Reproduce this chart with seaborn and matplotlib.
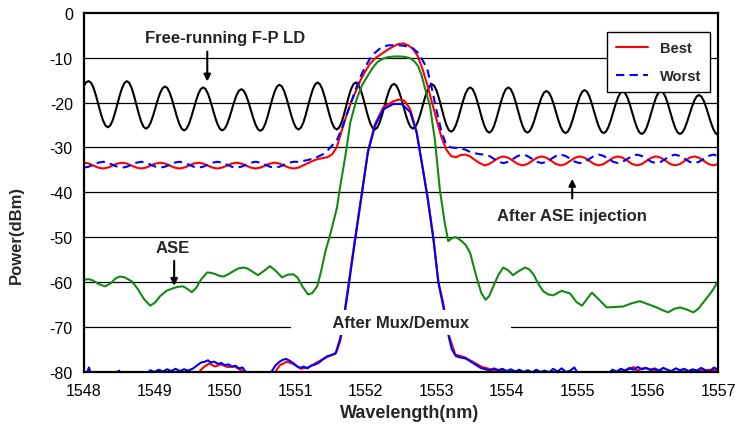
import numpy as np
import matplotlib
matplotlib.use("Agg")
import matplotlib.pyplot as plt
import seaborn as sns

# Wavelength grids of the OSA traces (nm)
wavelength = np.linspace(1548, 1557, 134)
fp_wavelength = np.linspace(1548, 1557, 267)

# Free-running F-P LD spectrum (dBm), one mode period per row
fp_ld = [
    -16.2, -15.4,
    -15.2, -15.59, -16.7, -18.38, -20.35, -22.32, -24.0, -25.11,
    -25.5, -25.11, -24.0, -22.32, -20.35, -18.38, -16.7, -15.59,
    -15.2, -15.6, -16.75, -18.48, -20.5, -22.52, -24.25, -25.4,
    -25.8, -25.44, -24.43, -22.9, -21.1, -19.3, -17.77, -16.76,
    -16.4, -16.77, -17.83, -19.43, -21.3, -23.17, -24.77, -25.83,
    -26.2, -25.84, -24.8, -23.23, -21.4, -19.57, -18.0, -16.96,
    -16.6, -16.96, -18.0, -19.57, -21.4, -23.23, -24.8, -25.84,
    -26.2, -25.85, -24.86, -23.36, -21.6, -19.84, -18.34, -17.35,
    -17.0, -17.35, -18.36, -19.87, -21.65, -23.43, -24.94, -25.95,
    -26.3, -25.91, -24.8, -23.12, -21.15, -19.18, -17.5, -16.39,
    -16.0, -16.38, -17.46, -19.09, -21.0, -22.91, -24.54, -25.62,
    -26.0, -25.6, -24.47, -22.76, -20.75, -18.74, -17.03, -15.9,
    -15.5, -15.9, -17.03, -18.74, -20.75, -22.76, -24.47, -25.6,
    -26.0, -25.6, -24.47, -22.76, -20.75, -18.74, -17.03, -15.9,
    -15.5, -15.9, -17.03, -18.74, -20.75, -22.76, -24.47, -25.6,
    -26.0, -25.61, -24.51, -22.85, -20.9, -18.95, -17.29, -16.19,
    -15.8, -16.18, -17.26, -18.89, -20.8, -22.71, -24.34, -25.42,
    -25.8, -25.42, -24.35, -22.74, -20.85, -18.96, -17.35, -16.28,
    -15.9, -16.3, -17.45, -19.18, -21.2, -23.22, -24.95, -26.1,
    -26.5, -26.12, -25.05, -23.44, -21.55, -19.66, -18.05, -16.98,
    -16.6, -16.98, -18.07, -19.72, -21.65, -23.58, -25.23, -26.32,
    -26.7, -26.32, -25.23, -23.58, -21.65, -19.72, -18.07, -16.98,
    -16.6, -16.98, -18.07, -19.72, -21.65, -23.58, -25.23, -26.32,
    -26.7, -26.35, -25.34, -23.83, -22.05, -20.27, -18.76, -17.75,
    -17.4, -17.76, -18.77, -20.3, -22.1, -23.9, -25.43, -26.44,
    -26.8, -26.44, -25.4, -23.83, -22.0, -20.17, -18.6, -17.56,
    -17.2, -17.56, -18.6, -20.17, -22.0, -23.83, -25.4, -26.44,
    -26.8, -26.45, -25.44, -23.93, -22.15, -20.37, -18.86, -17.85,
    -17.5, -17.86, -18.89, -20.44, -22.25, -24.06, -25.61, -26.64,
    -27.0, -26.64, -25.6, -24.03, -22.2, -20.37, -18.8, -17.76,
    -17.4, -17.76, -18.8, -20.37, -22.2, -24.03, -25.6, -26.64,
    -27.0, -26.67, -25.73, -24.31, -22.65, -20.99, -19.57, -18.63,
    -18.3, -18.64, -19.6, -21.05, -22.75, -24.45, -25.9, -26.86, -27.2,
]

# After ASE injection, best channel (dBm)
best = [
    -33.4, -33.6, -34.05, -34.5, -34.7, -34.5, -34.05, -33.6,
    -33.4, -33.6, -34.05, -34.5, -34.7, -34.5, -34.05, -33.6,
    -33.4, -33.6, -34.05, -34.5, -34.7, -34.5, -34.05, -33.6,
    -33.4, -33.6, -34.05, -34.5, -34.7, -34.5, -34.05, -33.6,
    -33.4, -33.6, -34.05, -34.5, -34.7, -34.5, -34.05, -33.6,
    -33.4, -33.6, -34.05, -34.5, -34.7, -34.5, -34.0, -33.5,
    -33.0, -32.6, -32.4, -32.2, -31.6,
    -30.0, -26.5, -23.0, -20.0, -17.5, -15.0, -13.0, -11.3,
    -10.2, -9.4, -8.7, -8.0, -7.4, -6.9, -6.8, -7.2,
    -8.0, -9.6, -12.5, -16.0, -20.0, -24.0, -27.8, -30.5,
    -31.9, -32.2, -31.7, -31.6, -32.0, -32.8, -33.5,
    -34.0, -33.7, -33.0, -32.3, -32.0, -32.3, -33.0, -33.7,
    -34.0, -33.7, -33.0, -32.3, -32.0, -32.3, -33.0, -33.7,
    -34.0, -33.7, -33.0, -32.3, -32.0, -32.3, -33.0, -33.7,
    -34.0, -33.7, -33.0, -32.3, -32.0, -32.3, -33.0, -33.7,
    -34.0, -33.7, -33.0, -32.3, -32.0, -32.3, -33.0, -33.7,
    -34.0, -33.7, -33.0, -32.3, -32.0, -32.3, -33.0, -33.7,
    -34.0, -33.7,
]

# After ASE injection, worst channel (dBm)
worst = [
    -34.5, -34.3, -33.85, -33.4, -33.2, -33.4, -33.85, -34.3,
    -34.5, -34.3, -33.85, -33.4, -33.2, -33.4, -33.85, -34.3,
    -34.5, -34.3, -33.85, -33.4, -33.2, -33.4, -33.85, -34.3,
    -34.5, -34.3, -33.85, -33.4, -33.2, -33.4, -33.85, -34.3,
    -34.5, -34.3, -33.85, -33.4, -33.2, -33.4, -33.85, -34.3,
    -34.5, -34.3, -33.85, -33.4, -33.2, -33.2, -33.0, -32.8,
    -32.5, -32.1, -31.6, -30.8, -29.6,
    -28.5, -26.0, -23.0, -20.0, -17.0, -14.2, -12.0, -10.2,
    -8.9, -8.0, -7.4, -7.2, -7.2, -7.2, -7.3, -7.5,
    -7.9, -8.8, -10.5, -12.5, -17.0, -22.0, -26.5, -29.5,
    -30.0, -30.1, -30.2, -30.5, -31.0, -31.3, -31.5,
    -31.6, -31.9, -32.55, -33.2, -33.5, -33.2, -32.55, -31.9,
    -31.6, -31.9, -32.55, -33.2, -33.5, -33.2, -32.55, -31.9,
    -31.6, -31.9, -32.55, -33.2, -33.5, -33.2, -32.55, -31.9,
    -31.6, -31.9, -32.55, -33.2, -33.5, -33.2, -32.55, -31.9,
    -31.6, -31.9, -32.55, -33.2, -33.5, -33.2, -32.55, -31.9,
    -31.6, -31.9, -32.55, -33.2, -33.5, -33.2, -32.55, -31.9,
    -31.6, -31.9,
]

# ASE source spectrum
ase_wl = [
    1548.00, 1548.07, 1548.13, 1548.21, 1548.30, 1548.38, 1548.45, 1548.51,
    1548.58, 1548.68, 1548.76, 1548.85, 1548.94, 1549.01, 1549.08, 1549.17,
    1549.25, 1549.33, 1549.41, 1549.47, 1549.53, 1549.59, 1549.66, 1549.75,
    1549.81, 1549.87, 1549.93, 1549.98, 1550.05, 1550.12, 1550.19, 1550.26,
    1550.32, 1550.40, 1550.47, 1550.55, 1550.64, 1550.72, 1550.81, 1550.89,
    1550.97, 1551.03, 1551.10, 1551.18, 1551.24, 1551.31, 1551.36, 1551.43,
    1551.49, 1551.55, 1551.59, 1551.63, 1551.71, 1551.78, 1551.87, 1551.95,
    1552.02, 1552.09, 1552.16, 1552.23, 1552.30, 1552.40, 1552.49, 1552.56,
    1552.63, 1552.69, 1552.74, 1552.79, 1552.84, 1552.91, 1552.98, 1553.05,
    1553.12, 1553.17, 1553.22, 1553.27, 1553.31, 1553.36, 1553.42, 1553.48,
    1553.53, 1553.58, 1553.64, 1553.70, 1553.75, 1553.81, 1553.88, 1553.95,
    1554.02, 1554.09, 1554.17, 1554.26, 1554.32, 1554.38, 1554.45, 1554.52,
    1554.59, 1554.66, 1554.78, 1554.90, 1554.99, 1555.07, 1555.14, 1555.21,
    1555.30, 1555.42, 1555.53, 1555.65, 1555.77, 1555.89, 1556.01, 1556.13,
    1556.21, 1556.29, 1556.38, 1556.46, 1556.56, 1556.65, 1556.72, 1556.79,
    1556.86, 1556.93, 1557.00,
]
ase_power = [
    -59.5, -59.4, -59.7, -60.5, -61.0, -60.3, -59.2, -58.8,
    -59.0, -59.9, -61.5, -63.8, -65.3, -64.6, -63.2, -62.0,
    -61.5, -61.1, -61.0, -61.6, -62.3, -61.4, -59.5, -57.9,
    -58.0, -58.3, -58.7, -58.8, -58.3, -57.6, -57.0, -56.8,
    -57.0, -57.8, -58.5, -57.6, -56.5, -57.5, -59.0, -58.4,
    -58.3, -59.0, -61.0, -62.8, -62.5, -61.0, -58.0, -53.0,
    -49.7, -46.0, -43.5, -39.3, -31.9, -24.4, -19.2, -16.0,
    -14.2, -12.4, -11.0, -10.3, -9.9, -9.7, -9.7, -9.8,
    -10.1, -10.8, -11.8, -13.8, -16.8, -20.7, -28.2, -39.3,
    -46.8, -50.9, -50.3, -50.0, -50.3, -50.9, -51.8, -53.5,
    -56.5, -59.4, -62.5, -64.0, -63.2, -61.0, -58.5, -56.8,
    -57.4, -58.5, -57.6, -56.8, -57.2, -58.3, -60.5, -62.1,
    -62.8, -63.0, -62.0, -62.6, -64.5, -65.3, -63.8, -62.4,
    -63.8, -65.7, -65.6, -65.5, -64.8, -64.3, -65.0, -65.7,
    -66.3, -66.8, -66.0, -65.7, -66.2, -66.8, -66.0, -64.6,
    -63.2, -61.7, -59.8,
]

# After Mux/Demux, best channel
mux_best_wl = [
    1548.00, 1549.60, 1549.70, 1549.78, 1549.86, 1549.94, 1550.04, 1550.14,
    1550.24, 1550.30, 1550.70, 1550.78, 1550.88, 1550.98, 1551.08, 1551.20,
    1551.30, 1551.40, 1551.50, 1551.58, 1551.64, 1551.70, 1551.75, 1551.85,
    1551.94, 1552.03, 1552.13, 1552.25, 1552.39, 1552.47, 1552.55, 1552.63,
    1552.72, 1552.81, 1552.88, 1552.96, 1553.03, 1553.10, 1553.17, 1553.27,
    1553.40, 1553.55, 1553.65, 1553.80, 1554.00, 1554.30, 1555.00, 1555.50,
    1555.70, 1555.80, 1555.85, 1555.95, 1556.10, 1556.30, 1556.90, 1557.00,
]
mux_best_power = [
    -80.8, -80.6, -79.0, -78.2, -78.9, -78.4, -79.0, -78.9,
    -79.8, -80.6, -80.4, -78.6, -77.8, -78.4, -79.4, -79.0,
    -78.0, -77.2, -76.4, -75.8, -73.0, -66.5, -61.0, -50.0,
    -40.5, -30.8, -24.8, -21.0, -19.7, -19.3, -19.6, -21.5,
    -26.4, -34.7, -41.4, -50.3, -60.0, -64.8, -71.5, -76.2,
    -76.8, -78.1, -79.0, -79.6, -79.9, -80.3, -80.6, -80.4,
    -79.7, -79.0, -79.8, -79.2, -79.7, -80.2, -79.6, -79.8,
]

# After Mux/Demux, worst channel
mux_worst_wl = [
    1548.00, 1548.05, 1548.07, 1548.10, 1548.40, 1548.50, 1548.52, 1548.90,
    1548.94, 1549.00, 1549.06, 1549.12, 1549.18, 1549.24, 1549.30, 1549.36,
    1549.42, 1549.48, 1549.55, 1549.60, 1549.66, 1549.72, 1549.76, 1549.80,
    1549.85, 1549.90, 1549.95, 1550.00, 1550.05, 1550.10, 1550.15, 1550.20,
    1550.25, 1550.30, 1550.40, 1550.62, 1550.67, 1550.72, 1550.77, 1550.82,
    1550.87, 1550.92, 1550.97, 1551.02, 1551.07, 1551.12, 1551.17, 1551.22,
    1551.27, 1551.33, 1551.38, 1551.45, 1551.52, 1551.57, 1551.60, 1551.63,
    1551.66, 1551.70, 1551.75, 1551.80, 1551.85, 1551.94, 1552.03, 1552.13,
    1552.25, 1552.39, 1552.51, 1552.63, 1552.72, 1552.81, 1552.88, 1552.96,
    1553.03, 1553.10, 1553.17, 1553.22, 1553.28, 1553.35, 1553.42, 1553.49,
    1553.55, 1553.63, 1553.70, 1553.76, 1553.82, 1553.88, 1553.94, 1554.00,
    1554.06, 1554.12, 1554.18, 1554.24, 1554.30, 1554.36, 1554.42, 1554.48,
    1554.54, 1554.60, 1554.66, 1554.72, 1554.78, 1554.84, 1554.90, 1554.96,
    1555.01, 1555.45, 1555.50, 1555.56, 1555.62, 1555.68, 1555.74, 1555.80,
    1555.86, 1555.92, 1555.98, 1556.04, 1556.10, 1556.16, 1556.22, 1556.28,
    1556.34, 1556.40, 1556.46, 1556.52, 1556.58, 1556.64, 1556.70, 1556.76,
    1556.82, 1556.88, 1556.94, 1557.00,
]
mux_worst_power = [
    -80.4, -80.0, -79.1, -80.6, -81.0, -79.8, -81.0, -80.6,
    -79.7, -80.1, -79.6, -80.0, -79.5, -79.9, -79.4, -79.9,
    -79.5, -79.8, -79.3, -78.7, -78.0, -77.8, -77.5, -78.0,
    -77.8, -78.3, -78.1, -78.6, -78.4, -78.9, -78.7, -79.3,
    -79.1, -80.2, -81.0, -81.0, -79.8, -78.6, -77.9, -77.4,
    -77.2, -77.6, -78.1, -78.8, -79.2, -78.9, -79.3, -78.7,
    -78.5, -78.1, -77.4, -76.6, -76.3, -76.0, -74.5, -73.0,
    -71.0, -67.0, -61.7, -56.0, -50.5, -40.8, -31.1, -25.2,
    -21.5, -20.3, -20.3, -22.1, -26.6, -34.9, -41.6, -50.5,
    -60.1, -65.5, -71.7, -75.0, -76.6, -76.9, -77.1, -77.8,
    -78.4, -79.2, -79.5, -79.8, -79.3, -79.7, -79.4, -79.9,
    -79.5, -80.0, -79.6, -80.1, -79.7, -80.2, -79.6, -80.1,
    -79.8, -80.2, -79.4, -80.0, -79.3, -80.1, -79.8, -79.1,
    -80.4, -80.4, -79.6, -80.0, -79.4, -79.8, -79.2, -79.6,
    -79.0, -79.5, -79.2, -79.7, -79.3, -79.8, -79.2, -79.6,
    -79.9, -79.3, -79.7, -79.4, -79.9, -79.5, -79.8, -79.2,
    -79.7, -80.1, -79.1, -79.6,
]

x_ticks = [1548, 1549, 1550, 1551, 1552, 1553, 1554, 1555, 1556, 1557]
y_ticks = [-80, -70, -60, -50, -40, -30, -20, -10, 0]

sns.set_style("white")
plt.rcParams["font.family"] = ["Liberation Sans", "DejaVu Sans"]
plt.rcParams["axes.unicode_minus"] = False

fig, ax = plt.subplots(figsize=(7.38, 4.31), dpi=100)
fig.subplots_adjust(left=0.1138, right=0.973, bottom=0.1357, top=0.9675)

# horizontal grid
for yv in y_ticks[1:-1]:
    ax.axhline(yv, color="black", lw=0.9, zorder=1)

sns.lineplot(x=fp_wavelength, y=fp_ld, color="black", lw=1.5, estimator=None, ax=ax)
sns.lineplot(x=ase_wl, y=ase_power, color="#138a13", lw=1.5, estimator=None, ax=ax)
sns.lineplot(x=mux_best_wl, y=mux_best_power, color="red", lw=1.5, estimator=None, ax=ax)
sns.lineplot(x=mux_worst_wl, y=mux_worst_power, color="blue", lw=1.5, estimator=None, ax=ax)
sns.lineplot(x=wavelength, y=best, color="red", lw=1.5, estimator=None, ax=ax, label="Best")
sns.lineplot(x=wavelength, y=worst, color="blue", lw=1.5, estimator=None, ax=ax,
             label="Worst", linestyle=(0, (4, 2.5)))

ax.set_xlim(1548, 1557)
ax.set_ylim(-80, 0)
ax.set_xticks(x_ticks)
ax.set_yticks(y_ticks)
ax.tick_params(axis="both", direction="in", length=4, width=1.2, colors="black",
               labelsize=11.5, pad=8)

for sp in ax.spines.values():
    sp.set_color("black")
    sp.set_linewidth(1.6)

ax.set_xlabel("Wavelength(nm)", fontsize=13, fontweight="bold")
ax.set_ylabel("Power(dBm)", fontsize=12, fontweight="bold")
ax.xaxis.set_label_coords(0.514, -0.09)
ax.yaxis.set_label_coords(-0.095, 0.384)

# annotations
arrow = dict(arrowstyle="-|>", color="black", lw=1.5, mutation_scale=10)
ax.text(1550.0, -5.4, "Free-running F-P LD", fontsize=12, fontweight="bold",
        ha="center", va="center")
ax.annotate("", xy=(1549.75, -15.9), xytext=(1549.75, -8.0), arrowprops=arrow)

ax.text(1549.26, -52.3, "ASE", fontsize=12, fontweight="bold", ha="center", va="center")
ax.annotate("", xy=(1549.28, -61.5), xytext=(1549.28, -54.7), arrowprops=arrow)

ax.text(1554.93, -45.1, "After ASE injection", fontsize=12, fontweight="bold",
        ha="center", va="center")
ax.annotate("", xy=(1554.93, -36.4), xytext=(1554.93, -42.0), arrowprops=arrow)

ax.text(1552.5, -69.1, "        After Mux/Demux        ", fontsize=12, fontweight="bold",
        ha="center", va="center", zorder=5,
        bbox=dict(facecolor="white", edgecolor="none", boxstyle="square,pad=0.3"))

leg = ax.legend(loc="upper right", bbox_to_anchor=(0.987, 0.947), borderaxespad=0,
                frameon=True, fancybox=False, edgecolor="black", framealpha=1,
                labelspacing=1.0, handlelength=2.2, borderpad=0.6,
                prop={"weight": "bold", "size": 10.5})
leg.get_frame().set_linewidth(1.0)

plt.savefig("out.png", dpi=100)
plt.close()
